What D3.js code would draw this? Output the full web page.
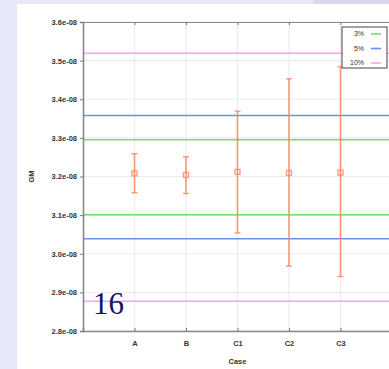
<!DOCTYPE html>
<html>
<head>
<meta charset="utf-8">
<script src="https://cdn.jsdelivr.net/npm/d3@7"></script>
<style>
  body { margin: 0; background: #fff; }
  svg { display: block; }
  .tick text { font-family: "Liberation Sans", Arial, sans-serif; font-weight: bold; font-size: 7.5px; fill: #333; }
</style>
</head>
<body>
<div class="chart"></div>
<script>
// GM per case with error bars, and the 3% / 5% / 10% reference bands

var cases = ["A", "B", "C1", "C2", "C3"];
var gmMean  = [3.208e-8, 3.204e-8, 3.212e-8, 3.209e-8, 3.210e-8];
var gmUpper = [3.259e-8, 3.251e-8, 3.369e-8, 3.453e-8, 3.484e-8];
var gmLower = [3.158e-8, 3.156e-8, 3.054e-8, 2.968e-8, 2.941e-8];

var bandLabels = ["3%", "5%", "10%"];
var bandUpper  = [3.295e-8, 3.358e-8, 3.519e-8];
var bandLower  = [3.101e-8, 3.039e-8, 2.877e-8];
var bandColors = ["#6fe06f", "#6f8ff0", "#f5a3f5"];

var yTicks = [2.8e-8, 2.9e-8, 3.0e-8, 3.1e-8, 3.2e-8, 3.3e-8, 3.4e-8, 3.5e-8, 3.6e-8];
var yTickLabels = ["2.8e-08", "2.9e-08", "3.0e-08", "3.1e-08", "3.2e-08", "3.3e-08", "3.4e-08", "3.5e-08", "3.6e-08"];

var W = 389, H = 369;
var margin = {top: 22, right: -3, bottom: 38, left: 83},
    width = W - margin.left - margin.right,
    height = H - margin.top - margin.bottom;

var svg = d3.select(".chart").append("svg")
    .attr("width", W)
    .attr("height", H);

/* page background strips */
svg.append("rect").attr("x", 0).attr("y", 0).attr("width", W).attr("height", 4).attr("fill", "#e7e9fb");
svg.append("rect").attr("x", 0).attr("y", 0).attr("width", 17).attr("height", H).attr("fill", "#e7e9fb");
svg.append("rect").attr("x", 313).attr("y", 0).attr("width", 76).attr("height", 4).attr("fill", "#d6d8ee");

var g = svg.append("g")
    .attr("transform", "translate(" + margin.left + "," + margin.top + ")");

/* scales */
var x = d3.scalePoint().domain(["", ...cases, " "]).range([0, width]);
var y = d3.scaleLinear().domain([2.8e-8, 3.6e-8]).range([height, 0]);

/* grid */
g.append("g").selectAll("line").data(yTicks).join("line")
    .attr("x1", 0).attr("x2", width)
    .attr("y1", function(d) { return y(d); }).attr("y2", function(d) { return y(d); })
    .attr("stroke", "#ececec").attr("stroke-width", 1.2);
g.append("g").selectAll("line").data(cases).join("line")
    .attr("x1", function(d) { return x(d); }).attr("x2", function(d) { return x(d); })
    .attr("y1", 0).attr("y2", height)
    .attr("stroke", "#ececec").attr("stroke-width", 1.2);

/* reference bands */
bandLabels.forEach(function(lab, i) {
    [bandUpper[i], bandLower[i]].forEach(function(v) {
        g.append("line")
            .attr("x1", 0).attr("x2", width)
            .attr("y1", y(v)).attr("y2", y(v))
            .attr("stroke", bandColors[i]).attr("stroke-width", 1.6);
    });
});

/* error bars */
var bars = g.append("g").attr("stroke", "#ff7f5c").attr("stroke-opacity", 0.8).attr("fill", "none");
cases.forEach(function(c, i) {
    var cx = x(c);
    bars.append("line").attr("x1", cx).attr("x2", cx)
        .attr("y1", y(gmUpper[i])).attr("y2", y(gmLower[i])).attr("stroke-width", 1.6);
    [gmUpper[i], gmLower[i]].forEach(function(v) {
        bars.append("line").attr("x1", cx - 3).attr("x2", cx + 3)
            .attr("y1", y(v)).attr("y2", y(v)).attr("stroke-width", 1.4);
    });
    bars.append("rect")
        .attr("x", cx - 2.5).attr("y", y(gmMean[i]) - 2.5)
        .attr("width", 5).attr("height", 5)
        .attr("stroke-width", 1.3);
});

/* axes */
var xAxis = g.append("g")
    .attr("transform", "translate(0," + height + ")")
    .call(d3.axisBottom(x).tickValues(cases).tickSize(-3).tickPadding(10));
xAxis.select(".domain").attr("stroke", "#888").attr("stroke-width", 1.6);
xAxis.selectAll(".tick line").attr("stroke", "#777");

var yAxis = g.append("g")
    .call(d3.axisLeft(y).tickValues(yTicks).tickSize(3).tickPadding(3)
        .tickFormat(function(d, i) { return yTickLabels[i]; }));
yAxis.select(".domain").attr("stroke", "#888").attr("stroke-width", 1.6);
yAxis.selectAll(".tick line").attr("stroke", "#777");

var topAxis = g.append("g")
    .call(d3.axisTop(x).tickValues(cases).tickSize(-3).tickFormat(""));
topAxis.select(".domain").attr("stroke", "#888").attr("stroke-width", 1.2);
topAxis.selectAll(".tick line").attr("stroke", "#777");

var rightAxis = g.append("g")
    .attr("transform", "translate(" + width + ",0)")
    .call(d3.axisRight(y).tickValues(yTicks).tickSize(-3).tickFormat(""));
rightAxis.select(".domain").attr("stroke", "#888");
rightAxis.selectAll(".tick line").attr("stroke", "#777");

/* axis titles */
svg.append("text")
    .attr("transform", "translate(31," + (margin.top + y(3.2e-8)) + ") rotate(-90)")
    .attr("text-anchor", "middle").attr("dy", "0.35em")
    .style("font-family", "Liberation Sans, Arial, sans-serif")
    .style("font-weight", "bold").style("font-size", "7.5px").attr("fill", "#333")
    .text("GM");
svg.append("text")
    .attr("x", margin.left + x("C1")).attr("y", 364)
    .attr("text-anchor", "middle")
    .style("font-family", "Liberation Sans, Arial, sans-serif")
    .style("font-weight", "bold").style("font-size", "7.5px").attr("fill", "#333")
    .text("Case");

/* legend */
var lg = svg.append("g").attr("transform", "translate(342,27)");
lg.append("rect").attr("width", 45).attr("height", 41)
    .attr("fill", "#fff").attr("stroke", "#555").attr("stroke-width", 1.1);
bandLabels.forEach(function(lab, i) {
    var ly = 7 + i * 14.5;
    lg.append("text").attr("x", 22).attr("y", ly).attr("dy", "0.35em")
        .attr("text-anchor", "end")
        .style("font-family", "Liberation Sans, Arial, sans-serif")
        .style("font-size", "7px").attr("fill", "#333")
        .text(lab);
    lg.append("line").attr("x1", 29).attr("x2", 39).attr("y1", ly).attr("y2", ly)
        .attr("stroke", bandColors[i]).attr("stroke-width", 1.6);
});

/* page number */
svg.append("text")
    .attr("x", 93).attr("y", 314)
    .style("font-family", "Liberation Serif, serif")
    .style("font-size", "31px").attr("fill", "#161660")
    .text("16");
</script>
</body>
</html>
